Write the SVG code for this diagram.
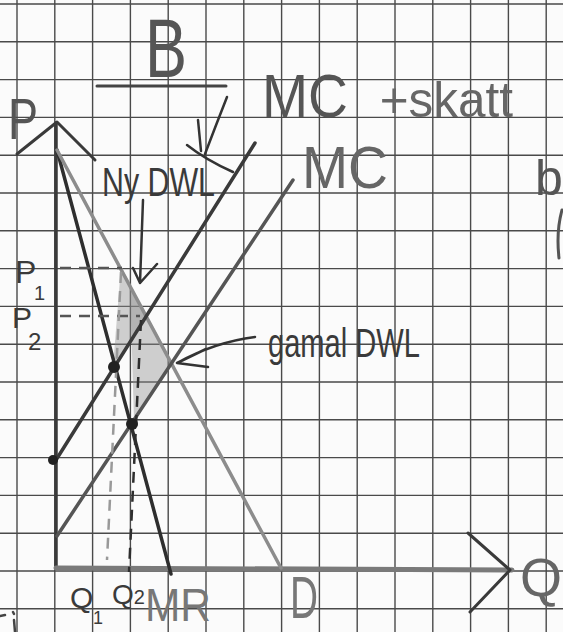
<svg xmlns="http://www.w3.org/2000/svg" width="563" height="632" viewBox="0 0 563 632">
<style>
text{font-family:"Liberation Sans","DejaVu Sans",sans-serif;fill:#3a3a3a}
.grid{stroke:#4a4a4a;stroke-width:1.4;fill:none}
.ln{fill:none;stroke-linecap:round;stroke-linejoin:round}
.dash{fill:none;stroke-width:2.5;stroke-dasharray:11 8}
.shade{fill:#8c8c8c;fill-opacity:0.4;stroke:none}
.dot{fill:#222}
</style>
<rect width="563" height="632" fill="#fbfbfb"/>
<g id="grid">
<path class="grid" d="M17,0V632M54.8,0V632M92.6,0V632M130.4,0V632M168.2,0V632M206,0V632M243.8,0V632M281.6,0V632M319.4,0V632M357.2,0V632M395,0V632M432.8,0V632M470.6,0V632M508.4,0V632M546.2,0V632
M0,4H563M0,41.8H563M0,79.6H563M0,117.4H563M0,155.2H563M0,193H563M0,230.8H563M0,268.6H563M0,306.4H563M0,344.2H563M0,382H563M0,419.8H563M0,457.6H563M0,495.4H563M0,533.2H563M0,571H563M0,608.8H563"/>
</g>
<g id="shading">
<polygon class="shade" points="121,266 146,316 113,367"/>
<polygon class="shade" points="130,284 173,363 134,421"/>
</g>
<g id="axes">
<line class="ln" x1="56" y1="123" x2="56" y2="568" stroke="#3a3a3a" stroke-width="3.5"/>
<polyline class="ln" points="17,154 57,122 95,160" stroke="#3a3a3a" stroke-width="3"/>
<line class="ln" x1="56" y1="568" x2="512" y2="570" stroke="#7a7a7a" stroke-width="5"/>
<polyline class="ln" points="468,533 510,570 470,612" stroke="#3a3a3a" stroke-width="3"/>
</g>
<g id="connectors">
<line id="mr" class="ln" x1="57" y1="150" x2="171" y2="574" stroke="#2e2e2e" stroke-width="3.5"/>
<line id="d" class="ln" x1="57" y1="150" x2="281" y2="568" stroke="#8c8c8c" stroke-width="3.5"/>
<line id="mc-tax" class="ln" x1="56" y1="460" x2="255" y2="143" stroke="#3a3a3a" stroke-width="3.5"/>
<line id="mc" class="ln" x1="57" y1="536" x2="293" y2="180" stroke="#555" stroke-width="3.5"/>
<line class="dash" x1="60" y1="268" x2="122" y2="268" stroke="#555"/>
<line class="dash" x1="60" y1="316" x2="140" y2="316" stroke="#555"/>
<line class="dash" x1="121" y1="272" x2="107" y2="560" stroke="#999"/>
<line class="dash" x1="141" y1="320" x2="129" y2="572" stroke="#2e2e2e"/>
<path class="ln" d="M227,97Q216,125 205,154M198,120L201,151M187,145Q206,160 233,172" stroke="#333" stroke-width="2.5"/>
<path class="ln" d="M143,200L140,283M133,268L140,283L157,264" stroke="#333" stroke-width="2.5"/>
<path class="ln" d="M255,337Q215,342 177,363M177,363L206,349M177,363L208,367" stroke="#333" stroke-width="2.5"/>
</g>
<g id="points">
<circle class="dot" cx="114" cy="367" r="6"/>
<circle class="dot" cx="132" cy="424" r="6"/>
<circle class="dot" cx="53" cy="460" r="5"/>
</g>
<g id="labels">
<g id="title"><text x="145" y="77" font-size="84" textLength="42" lengthAdjust="spacingAndGlyphs" style="fill:#555">B</text>
<line class="ln" x1="97" y1="86" x2="226" y2="86" stroke="#444" stroke-width="3"/></g>
<text id="lbl-p" x="8" y="139" font-size="58" textLength="30" lengthAdjust="spacingAndGlyphs" style="fill:#555">P</text>
<text id="lbl-p1" x="15" y="283" font-size="32">P<tspan x="34" y="300" font-size="20">1</tspan></text>
<text id="lbl-p2" x="12" y="328" font-size="30">P<tspan x="28" y="350" font-size="24">2</tspan></text>
<text id="lbl-mctax" x="262" y="117"><tspan font-size="62" textLength="86" lengthAdjust="spacingAndGlyphs" style="fill:#555">MC</tspan><tspan x="366" font-size="50" textLength="147" lengthAdjust="spacingAndGlyphs" style="fill:#666"> +skatt</tspan></text>
<text id="lbl-mc" x="302" y="188" font-size="60" textLength="86" lengthAdjust="spacingAndGlyphs" style="fill:#666">MC</text>
<text id="lbl-ny" x="102" y="196" font-size="40" textLength="113" lengthAdjust="spacingAndGlyphs">Ny DWL</text>
<text id="lbl-gamal" x="268" y="357" font-size="40" textLength="152" lengthAdjust="spacingAndGlyphs">gamal DWL</text>
<text id="lbl-q1" x="70" y="608" font-size="30">Q<tspan x="93" y="624" font-size="18">1</tspan></text>
<text id="lbl-q2" x="112" y="604" font-size="28">Q<tspan font-size="20">2</tspan></text>
<text id="lbl-mr" x="145" y="621" font-size="46" textLength="66" lengthAdjust="spacingAndGlyphs" style="fill:#777">MR</text>
<text id="lbl-d" x="290" y="618" font-size="60" textLength="28" lengthAdjust="spacingAndGlyphs" style="fill:#777">D</text>
<text id="lbl-q" x="520" y="596" font-size="54" style="fill:#666">Q</text>
<text id="edge-b" x="535" y="195" font-size="50" style="fill:#555">b</text>
<path class="ln" d="M562,210Q556,232 559,258" stroke="#555" stroke-width="3"/>
<path class="ln" d="M0,616L5,615M13,612L14,614M14,620L15,632" stroke="#444" stroke-width="2.5"/>
</g>
</svg>
